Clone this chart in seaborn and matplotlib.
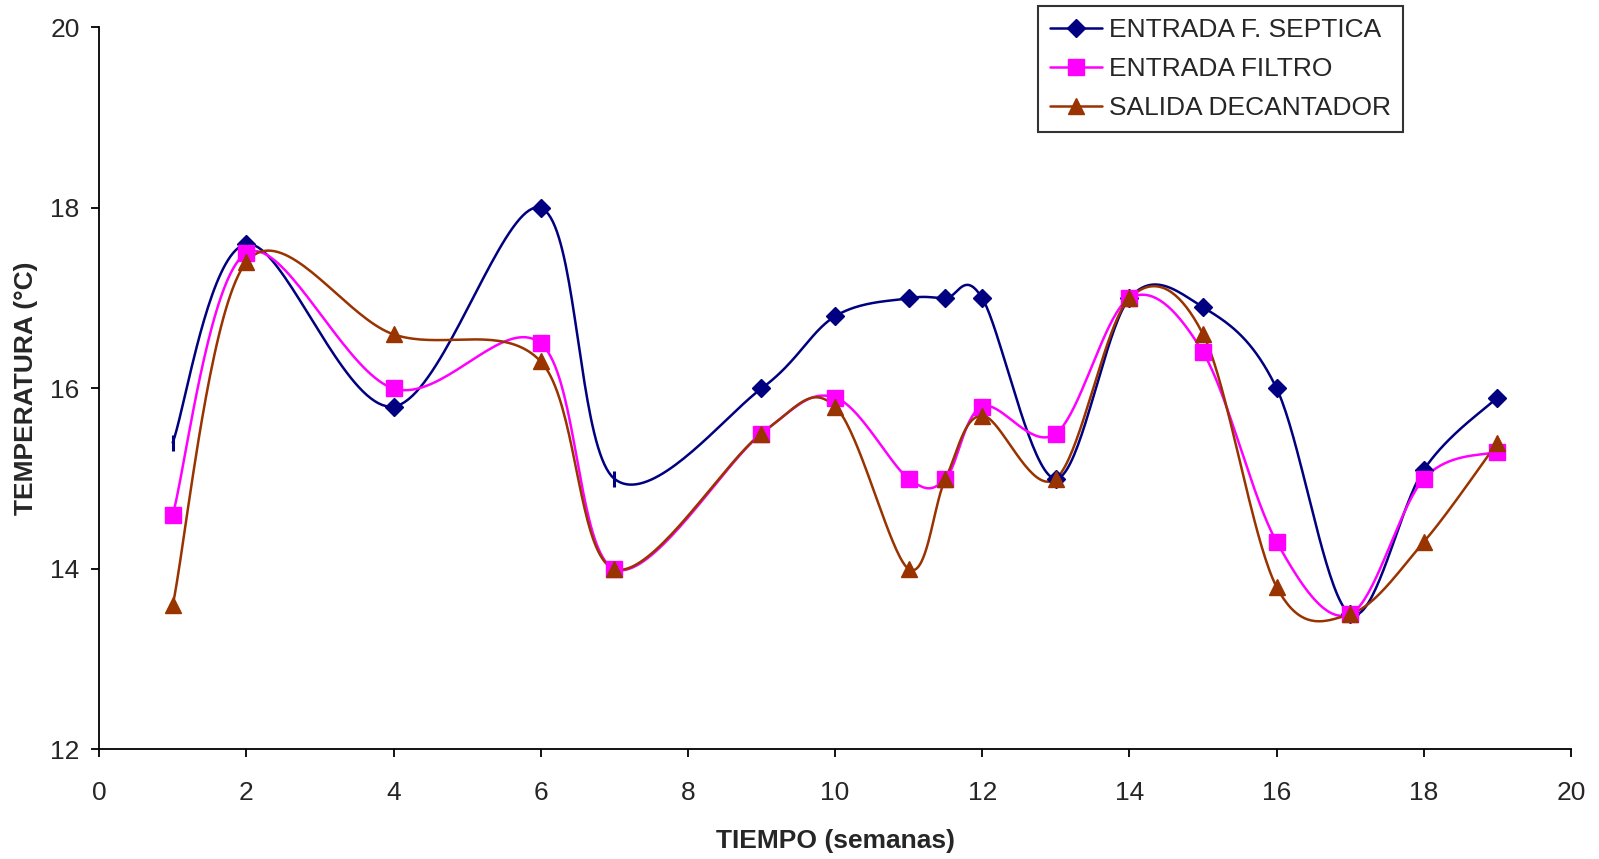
import numpy as np
import pandas as pd
import matplotlib
matplotlib.use("Agg")
import matplotlib.pyplot as plt
import seaborn as sns

weeks = [1, 2, 4, 6, 7, 9, 10, 11, 11.5, 12, 13, 14, 15, 16, 17, 18, 19]
entrada_septica = [15.4, 17.6, 15.8, 18.0, 15.0, 16.0, 16.8, 17.0, 17.0, 17.0, 15.0, 17.0, 16.9, 16.0, 13.5, 15.1, 15.9]
entrada_filtro = [14.6, 17.5, 16.0, 16.5, 14.0, 15.5, 15.9, 15.0, 15.0, 15.8, 15.5, 17.0, 16.4, 14.3, 13.5, 15.0, 15.3]
salida_decantador = [13.6, 17.4, 16.6, 16.3, 14.0, 15.5, 15.8, 14.0, 15.0, 15.7, 15.0, 17.0, 16.6, 13.8, 13.5, 14.3, 15.4]
series_names = ["ENTRADA F. SEPTICA", "ENTRADA FILTRO", "SALIDA DECANTADOR"]
# points of the first series drawn with a dash marker instead of a diamond
dash_points = [1, 7]


def smooth(xs, ys, n=40):
    P = np.column_stack([xs, ys]).astype(float)
    m = len(P)
    out = []
    for i in range(m - 1):
        p0 = P[i - 1] if i > 0 else P[i]
        p1 = P[i]
        p2 = P[i + 1]
        p3 = P[i + 2] if i + 2 < m else P[i + 1]
        c1 = p1 + (p2 - p0) / 6.0
        c2 = p2 - (p3 - p1) / 6.0
        t = np.linspace(0, 1, n, endpoint=(i == m - 2))[:, None]
        b = ((1 - t) ** 3) * p1 + 3 * ((1 - t) ** 2) * t * c1 + 3 * (1 - t) * t ** 2 * c2 + t ** 3 * p2
        out.append(b)
    out = np.vstack(out)
    return out[:, 0], out[:, 1]


sns.set_style("white")
plt.rcParams["font.family"] = ["Liberation Sans", "DejaVu Sans"]

fig = plt.figure(figsize=(15.99, 8.59), dpi=100)
ax = fig.add_axes([0.062, 0.1275, 0.9205, 0.8405])

colors = ["#000080", "#FF00FF", "#993300"]
markers = ["D", "s", "^"]
msizes = [9, 11, 11]
data = [entrada_septica, entrada_filtro, salida_decantador]

handles = []
for name, ys, c, mk, ms in zip(series_names, data, colors, markers, msizes):
    sx, sy = smooth(weeks, ys)
    df = pd.DataFrame({"x": sx, "y": sy})
    sns.lineplot(data=df, x="x", y="y", sort=False, color=c, lw=1.8, ax=ax, estimator=None)
    if name == series_names[0]:
        mx = [w for w in weeks if w not in dash_points]
        my = [v for w, v in zip(weeks, ys) if w not in dash_points]
        dx = [w for w in weeks if w in dash_points]
        dy = [v for w, v in zip(weeks, ys) if w in dash_points]
        ax.plot(dx, dy, ls="none", marker="|", ms=12, mew=2.2, color=c, zorder=4)
    else:
        mx, my = weeks, ys
    ax.plot(mx, my, ls="none", marker=mk, ms=ms, color=c, mec=c, zorder=4)
    handles.append(plt.Line2D([], [], color=c, lw=1.8, marker=mk, ms=ms, mec=c))

ax.set_xlim(0, 20)
ax.set_ylim(12, 20)
ax.set_xticks(range(0, 21, 2))
ax.set_yticks(range(12, 21, 2))
for s in ["top", "right"]:
    ax.spines[s].set_visible(False)
for s in ["left", "bottom"]:
    ax.spines[s].set_color("black")
    ax.spines[s].set_linewidth(1.3)
ax.tick_params(axis="both", direction="out", length=6, width=1.3, color="black",
               labelsize=19, left=True, bottom=True)
ax.tick_params(axis="x", pad=17)
ax.tick_params(axis="y", pad=8)
ax.set_xlabel("TIEMPO (semanas)", fontsize=19, fontweight="bold", labelpad=17)
ax.set_ylabel("TEMPERATURA (°C)", fontsize=19, fontweight="bold", va="center")
ax.yaxis.set_label_coords(-0.05, 0.5)

leg = ax.legend(handles, series_names, loc="upper left",
                bbox_to_anchor=(0.649, 0.993), bbox_transform=fig.transFigure,
                fancybox=False, frameon=True, edgecolor="black", fontsize=19,
                handlelength=2.0, borderaxespad=0, labelspacing=0.57,
                handletextpad=0.25, borderpad=0.45)
leg.get_frame().set_linewidth(1.5)

fig.savefig("out.png", dpi=100, facecolor="white")
